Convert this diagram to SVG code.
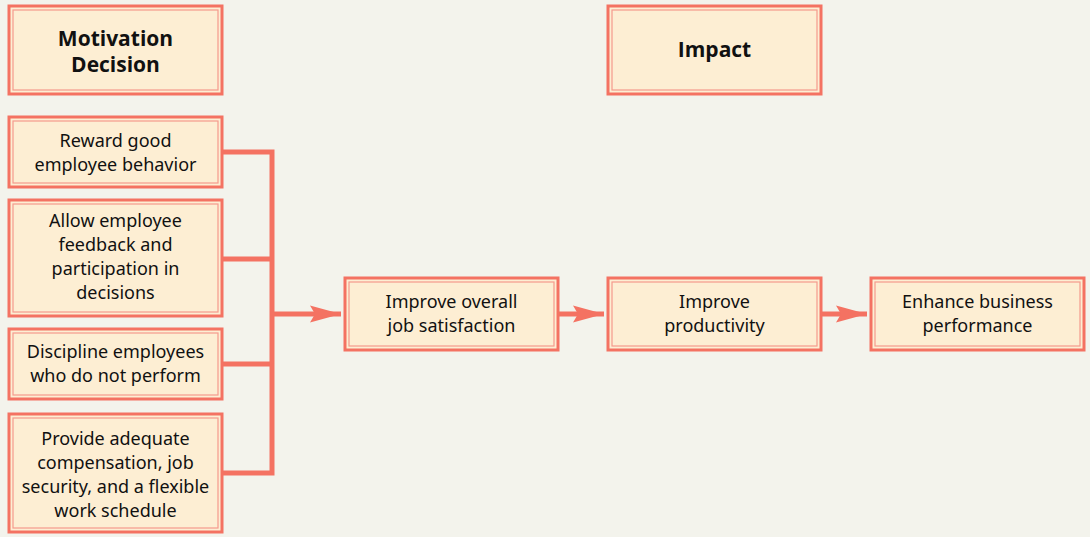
<svg xmlns="http://www.w3.org/2000/svg" width="1090" height="537" viewBox="0 0 1090 537">
<defs>
<style>
.bg{fill:#f3f3ec}
.o{fill:#fdeed3;stroke:#f47262;stroke-width:3}
.i{fill:none;stroke:#f59a8c;stroke-width:1.2}
.t{font-family:"Noto Sans","Open Sans",sans-serif;font-size:18px;fill:#111;text-anchor:middle}
.h{font-family:"Open Sans","Noto Sans",sans-serif;font-size:21px;font-weight:bold;fill:#111;text-anchor:middle}
.c{stroke:#f47262;stroke-width:5;fill:none}
</style>
<marker id="ah" markerWidth="32" markerHeight="20" refX="31" refY="10" orient="auto" markerUnits="userSpaceOnUse">
<path d="M0,1.5 L31,10 L0,18.5 L5,10 Z" fill="#f47262"/>
</marker>
</defs>
<rect class="bg" width="1090" height="537"/>
<g id="connectors">
<path class="c" d="M223,152 H272 M223,259 H272 M223,364 H272 M223,473 H272 M272,149.5 V475.5"/>
<path class="c" d="M272,314 H341" marker-end="url(#ah)"/>
<path class="c" d="M559,314 H604" marker-end="url(#ah)"/>
<path class="c" d="M822,314 H867" marker-end="url(#ah)"/>
</g>
<g id="motivation">
<rect class="o" x="9" y="6" width="213" height="88"/><rect class="i" x="13" y="10" width="205" height="80"/>
<text class="h" x="115.5" y="46">Motivation</text><text class="h" x="115.5" y="72">Decision</text>
</g>
<g id="impact">
<rect class="o" x="608" y="6" width="213" height="88"/><rect class="i" x="612" y="10" width="205" height="80"/>
<text class="h" x="714.5" y="57">Impact</text>
</g>
<g id="reward">
<rect class="o" x="9" y="117" width="213" height="70"/><rect class="i" x="13" y="121" width="205" height="62"/>
<text class="t" x="115.5" y="147">Reward good</text><text class="t" x="115.5" y="171">employee behavior</text>
</g>
<g id="allow">
<rect class="o" x="9" y="200" width="213" height="116"/><rect class="i" x="13" y="204" width="205" height="108"/>
<text class="t" x="115.5" y="227">Allow employee</text><text class="t" x="115.5" y="251">feedback and</text><text class="t" x="115.5" y="275">participation in</text><text class="t" x="115.5" y="299">decisions</text>
</g>
<g id="discipline">
<rect class="o" x="9" y="329" width="213" height="70"/><rect class="i" x="13" y="333" width="205" height="62"/>
<text class="t" x="115.5" y="358">Discipline employees</text><text class="t" x="115.5" y="382">who do not perform</text>
</g>
<g id="provide">
<rect class="o" x="9" y="414" width="213" height="118"/><rect class="i" x="13" y="418" width="205" height="110"/>
<text class="t" x="115.5" y="445">Provide adequate</text><text class="t" x="115.5" y="469">compensation, job</text><text class="t" x="115.5" y="493">security, and a flexible</text><text class="t" x="115.5" y="517">work schedule</text>
</g>
<g id="satisfaction">
<rect class="o" x="345" y="278" width="213" height="72"/><rect class="i" x="349" y="282" width="205" height="64"/>
<text class="t" x="451.5" y="308">Improve overall</text><text class="t" x="451.5" y="332">job satisfaction</text>
</g>
<g id="productivity">
<rect class="o" x="608" y="278" width="213" height="72"/><rect class="i" x="612" y="282" width="205" height="64"/>
<text class="t" x="714.5" y="308">Improve</text><text class="t" x="714.5" y="332">productivity</text>
</g>
<g id="performance">
<rect class="o" x="871" y="278" width="213" height="72"/><rect class="i" x="875" y="282" width="205" height="64"/>
<text class="t" x="977.5" y="308">Enhance business</text><text class="t" x="977.5" y="332">performance</text>
</g>
</svg>
